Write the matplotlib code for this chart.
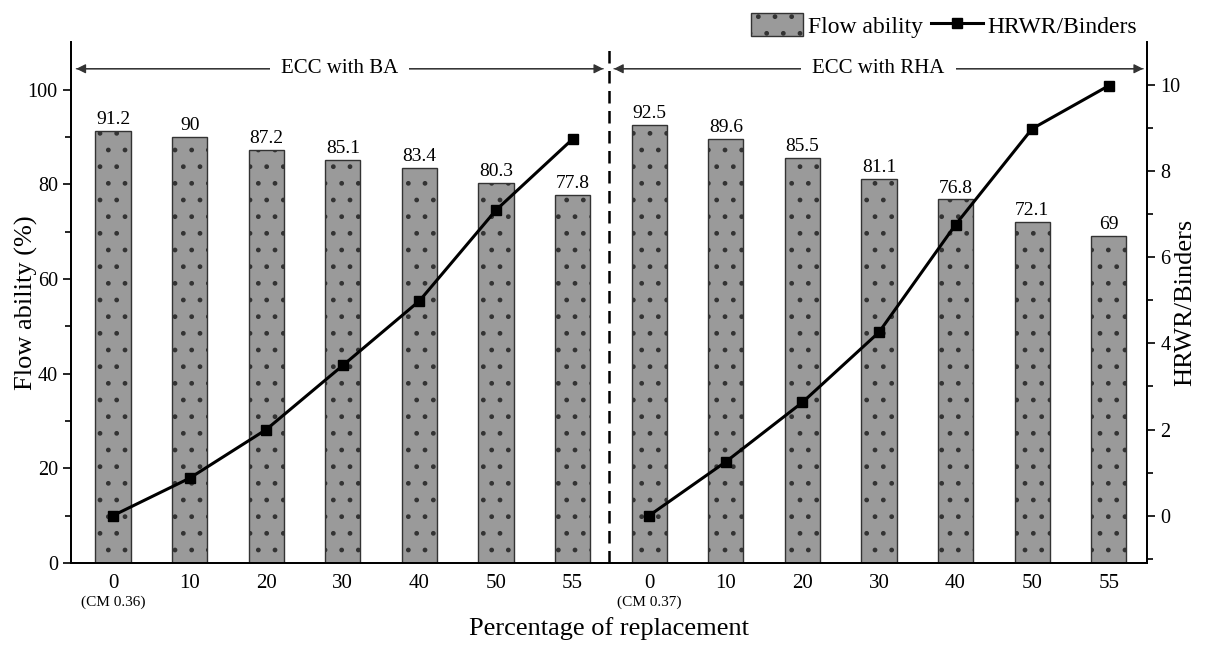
import matplotlib.pyplot as plt
import matplotlib.transforms as mtransforms

plt.rcParams['font.family'] = ['Liberation Serif', 'DejaVu Serif']
plt.rcParams['hatch.color'] = '#333333'
plt.rcParams['hatch.linewidth'] = 1.0

# data
tick_labels = ['0', '10', '20', '30', '40', '50', '55',
               '0', '10', '20', '30', '40', '50', '55']
flow = [91.2, 90, 87.2, 85.1, 83.4, 80.3, 77.8,
        92.5, 89.6, 85.5, 81.1, 76.8, 72.1, 69]
hrwr_ba = [0, 0.87, 2.0, 3.49, 4.99, 7.1, 8.75]
hrwr_rha = [0, 1.25, 2.63, 4.26, 6.76, 8.99, 9.99]
group_names = ['ECC with BA', 'ECC with RHA']
cm_notes = ['(CM 0.36)', '(CM 0.37)']

x = list(range(len(flow)))

fig = plt.figure(figsize=(12.07, 6.5), dpi=100)
ax = fig.add_axes([0.0588, 0.134, 0.8915, 0.801])
ax2 = ax.twinx()

bars = ax.bar(x, flow, width=0.46, color='#9a9a9a', edgecolor='#333333',
              linewidth=1.0, hatch='.', label='Flow ability', zorder=2)
for xi, v in zip(x, flow):
    ax.text(xi, v + 0.6, '%g' % v, ha='center', va='bottom', fontsize=14)

line, = ax2.plot(x[:7], hrwr_ba, color='black', lw=2.2, marker='s', ms=7,
                 label='HRWR/Binders', zorder=3)
ax2.plot(x[7:], hrwr_rha, color='black', lw=2.2, marker='s', ms=7, zorder=3)

ax.set_xlim(-0.55, 13.5)
ax.set_ylim(0, 110)
ax2.set_ylim(-1.1, 11)

ax.set_yticks([0, 20, 40, 60, 80, 100])
ax.set_yticks(range(10, 110, 20), minor=True)
ax2.set_yticks([0, 2, 4, 6, 8, 10])
ax2.set_yticks([-1, 1, 3, 5, 7, 9], minor=True)

ax.set_xticks(x)
ax.set_xticklabels(tick_labels, fontsize=15)
ax.tick_params(axis='x', length=0, pad=8)
ax.tick_params(axis='y', which='major', length=6, width=1.2, labelsize=14.5, direction='out')
ax.tick_params(axis='y', which='minor', length=4, width=1.2, direction='out')
ax2.tick_params(axis='y', which='major', length=6, width=1.2, labelsize=14.5, direction='out')
ax2.tick_params(axis='y', which='minor', length=4, width=1.2, direction='out')

for a in (ax, ax2):
    a.spines['top'].set_visible(False)
    for s in ('left', 'right', 'bottom'):
        a.spines[s].set_linewidth(1.3)

trans = mtransforms.blended_transform_factory(ax.transData, ax.transAxes)
for xi, note in zip([0, 7], cm_notes):
    ax.text(xi, -0.063, note, transform=trans, ha='center', va='top', fontsize=11)

ax.set_xlabel('Percentage of replacement', fontsize=19, labelpad=17)
ax.set_ylabel('Flow ability (%)', fontsize=19)
ax2.set_ylabel('HRWR/Binders', fontsize=19, rotation=90)
ax.yaxis.set_label_coords(-0.031, 0.5)
ax2.yaxis.set_label_coords(1.025, 0.5)

# divider and group arrows
ax.axvline(6.47, ymin=0, ymax=0.985, color='black', lw=1.8, ls=(0, (5, 3)), zorder=4)
arrow_y = 104.4
for (x0, x1), name in zip([(-0.48, 6.4), (6.54, 13.45)], group_names):
    ax.annotate('', xy=(x0, arrow_y), xytext=(x1, arrow_y),
                arrowprops=dict(arrowstyle='-|>', color='#333333', lw=0.9,
                                mutation_scale=14, shrinkA=0, shrinkB=0))
    ax.annotate('', xy=(x1, arrow_y), xytext=(x0, arrow_y),
                arrowprops=dict(arrowstyle='-|>', color='#333333', lw=0.9,
                                mutation_scale=14, shrinkA=0, shrinkB=0))
    ax.text((x0 + x1) / 2, arrow_y, name, ha='center', va='center', fontsize=15,
            bbox=dict(facecolor='white', edgecolor='none', pad=8), zorder=5)

fig.legend([bars, line], ['Flow ability', 'HRWR/Binders'], loc='upper right',
           bbox_to_anchor=(0.960, 1.012), ncol=2, frameon=False, fontsize=17,
           handlelength=2.2, handleheight=1.1, handletextpad=0.2, columnspacing=0.35)

plt.savefig('out.png', dpi=100)
